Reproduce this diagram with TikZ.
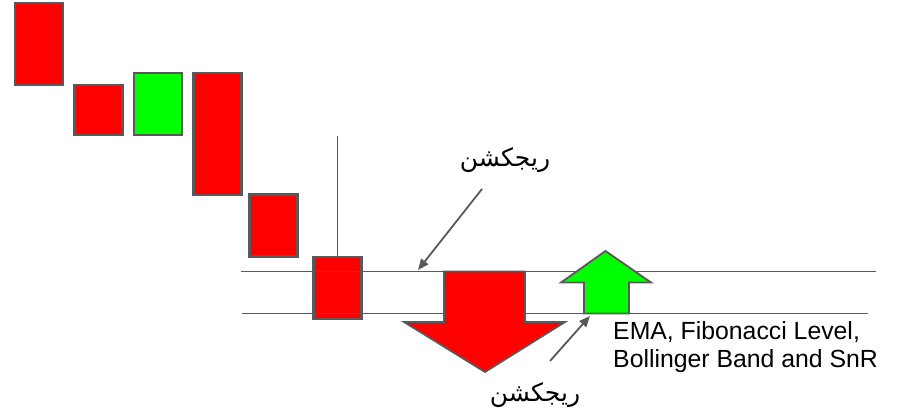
\documentclass[tikz,border=0pt]{standalone}
\usepackage{fontspec}
\setmainfont{Liberation Sans}
\newfontfamily\arabicfont[Script=Arabic]{DejaVu Sans}
\TeXXeTstate=1
\usetikzlibrary{arrows.meta}
\definecolor{edgegray}{HTML}{595959}
\definecolor{candlered}{HTML}{FF0000}
\definecolor{candlegreen}{HTML}{00FF00}
\begin{document}
\begin{tikzpicture}[x=1pt,y=-1pt,
  candle/.style={draw=edgegray, line width=2.2pt, inner sep=0pt, minimum width=48pt},
  level/.style={draw=edgegray, line width=1.8pt},
  blockarrow/.style={draw=edgegray, line width=1.8pt, line join=miter},
  pointer/.style={draw=edgegray, line width=1.8pt, -{Triangle[length=11pt,width=9pt]}},
  rejtext/.style={font=\arabicfont\fontsize{25}{30}\selectfont, inner sep=0pt},
  labeltext/.style={font=\fontsize{24.8}{28}\selectfont, align=left, inner sep=0pt, anchor=north west}
]
\useasboundingbox (0,0) rectangle (920,411);
% candles
\node[candle, fill=candlered, minimum height=82pt] (c1) at (39,44) {};
\node[candle, fill=candlered, minimum height=50pt] (c2) at (98.5,110) {};
\node[candle, fill=candlegreen, minimum height=62pt] (c3) at (158,104) {};
\node[candle, fill=candlered, minimum height=122pt] (c4) at (217.5,134) {};
\node[candle, fill=candlered, minimum height=62pt] (c5) at (273.5,225.5) {};
\node[candle, fill=candlered, minimum height=62pt] (c6) at (337.5,288) {};
\coordinate (wicktop) at (337.5,136);
\draw[edgegray, line width=1.4pt] (wicktop) -- (c6.north);
% levels
\coordinate (u1) at (241,271.5); \coordinate (u2) at (876,271.5);
\coordinate (l1) at (242,313.5); \coordinate (l2) at (868,313.5);
\draw[level] (u1) -- (u2);
\draw[level] (l1) -- (l2);
% red down arrow
\draw[blockarrow, fill=candlered] (444,271.5) -- (525,271.5) -- (525,322) -- (565,322) -- (485,372) -- (404,322) -- (444,322) -- cycle;
% green up arrow
\draw[blockarrow, fill=candlegreen] (584,313.5) -- (584,282.5) -- (561,282.5) -- (605.5,251) -- (651,282.5) -- (629,282.5) -- (629,313.5) -- cycle;
% labels
\node[rejtext] (rej1) at (505,160) {\beginR ریجکشن\endR};
\node[rejtext] (rej2) at (535,395) {\beginR ریجکشن\endR};
\node[labeltext] (info) at (613,321) {EMA, Fibonacci Level,\\Bollinger Band and SnR};
% pointers
\coordinate (p1s) at (482,189); \coordinate (p1e) at (418,270);
\coordinate (p2s) at (550,361); \coordinate (p2e) at (590,316);
\draw[pointer] (p1s) -- (p1e);
\draw[pointer] (p2s) -- (p2e);
\end{tikzpicture}
\end{document}
